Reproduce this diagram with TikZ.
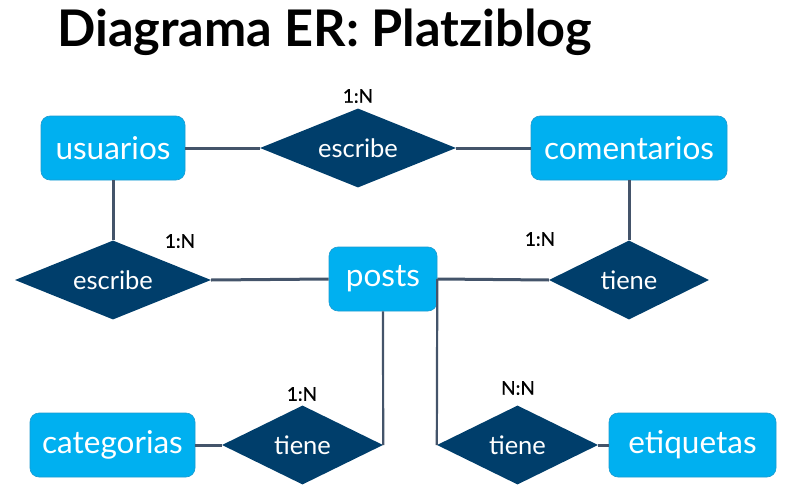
\documentclass[tikz,border=0pt]{standalone}
\usepackage{fontspec}
\setmainfont{Lato}
\newfontfamily\cardfont{Lato}[FakeBold=0.8]
\usetikzlibrary{shapes.geometric}
\definecolor{entfill}{HTML}{00B0F0}
\definecolor{entdraw}{HTML}{1C9AD0}
\definecolor{relfill}{HTML}{003E6B}
\definecolor{linec}{HTML}{44546A}
\tikzset{
  entity/.style={rectangle, rounded corners=9pt, fill=entfill, draw=entdraw, line width=0.6pt,
    text=white, font=\fontsize{31.5}{33}\selectfont, inner sep=0pt, minimum height=64pt},
  relation/.style={diamond, fill=relfill, text=white, font=\fontsize{25.5}{27}\selectfont,
    inner sep=0pt, aspect=2.5, minimum width=196pt, minimum height=79pt},
  conn/.style={draw=linec, line width=3pt},
  thinconn/.style={draw=linec, line width=2.2pt},
  card/.style={font=\cardfont\fontsize{19}{21}\selectfont, text=black, inner sep=0pt}
}
\begin{document}
\begin{tikzpicture}[x=1pt,y=-1pt]
\useasboundingbox (0,0) rectangle (795,503);
\node[font=\bfseries\fontsize{50.5}{54}\selectfont, anchor=base west, inner sep=0pt] (title) at (57,47) {Diagrama ER: Platziblog};

\node[entity, minimum width=144pt] (usuarios) at (113,148) {usuarios};
\node[entity, minimum width=196pt] (comentarios) at (629,148) {comentarios};
\node[entity, minimum width=108pt] (posts) at (383,279) {posts};
\node[entity, minimum width=165pt] (categorias) at (112.5,445) {categorias};
\node[entity, minimum width=167pt] (etiquetas) at (692.5,445) {etiquetas};

\node[relation] (esc1) at (358,148) {escribe};
\node[relation] (esc2) at (113,280) {escribe};
\node[relation, minimum width=160pt] (tiene1) at (629,280) {tiene};
\node[relation, minimum width=161pt] (tiene2) at (302.5,445) {tiene};
\node[relation, minimum width=161pt] (tiene3) at (517.5,445) {tiene};

\draw[conn] (usuarios.east) -- (esc1.west);
\draw[conn] (esc1.east) -- (comentarios.west);
\draw[conn] (usuarios.south) -- (esc2.north);
\draw[conn] (esc2.east) -- (posts.west);
\draw[conn] (posts.east) -- (tiene1.west);
\draw[conn] (comentarios.south) -- (tiene1.north);
\draw[thinconn] (posts.south) -- (tiene2.east);
\draw[thinconn] (posts.east) -- (tiene3.west);
\draw[conn] (categorias.east) -- (tiene2.west);
\draw[conn] (tiene3.east) -- (etiquetas.west);

\node[card] (c1) at (358,96) {1:N};
\node[card] (c2) at (180,241) {1:N};
\node[card] (c3) at (540,239) {1:N};
\node[card] (c4) at (302,394) {1:N};
\node[card] (c5) at (518,388) {N:N};
\end{tikzpicture}
\end{document}
